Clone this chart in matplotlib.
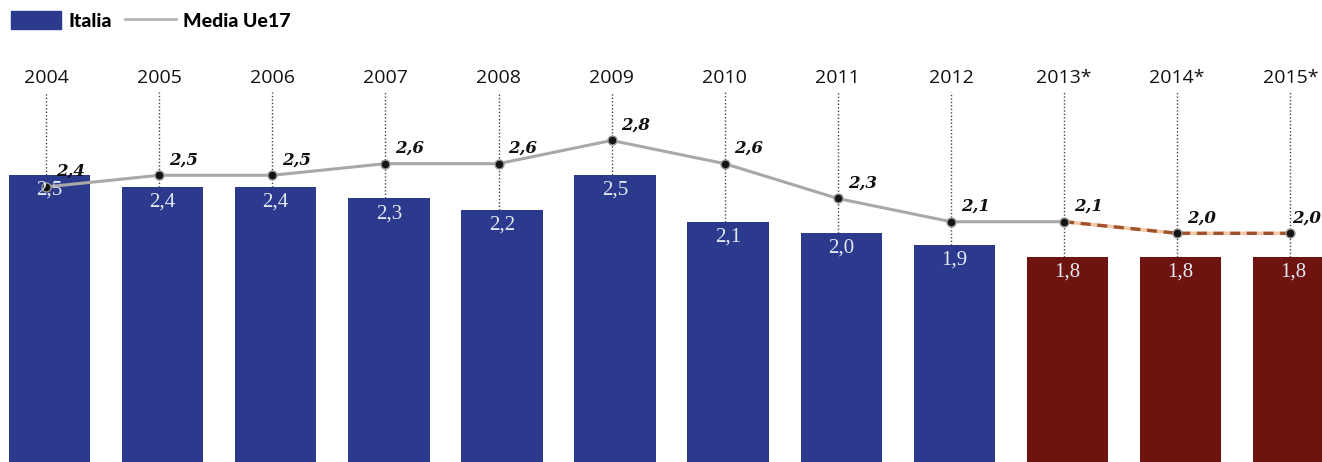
import matplotlib.pyplot as plt
from matplotlib.patches import Patch
from matplotlib.lines import Line2D

years = ['2004', '2005', '2006', '2007', '2008', '2009', '2010', '2011', '2012', '2013*', '2014*', '2015*']
italia = [2.5, 2.4, 2.4, 2.3, 2.2, 2.5, 2.1, 2.0, 1.9, 1.8, 1.8, 1.8]
media_ue17 = [2.4, 2.5, 2.5, 2.6, 2.6, 2.8, 2.6, 2.3, 2.1, 2.1, 2.0, 2.0]
n_actual = 9  # the last three years are forecasts

blue = '#2c3a8e'
red = '#6e1410'
gray = '#a8a8a8'

fig = plt.figure(figsize=(13.22, 4.62), dpi=100)
ax = fig.add_axes([0, 0, 1, 1])
x = list(range(len(years)))

colors = [blue if i < n_actual else red for i in x]
ax.bar([i + 0.03 for i in x], italia, width=0.72, color=colors, zorder=2)

# dotted guide lines from year label down to bar top
ax.vlines(x, italia, 3.22, colors='#444444', linestyles=(0, (1, 1.5)), linewidth=1, zorder=1)

# Media Ue17 line: solid for actual data, dashed for forecasts
k = n_actual
ax.plot(x[:k + 1], media_ue17[:k + 1], color=gray, lw=2.2, zorder=3)
ax.plot(x[k:], media_ue17[k:], color='#f2c9a8', lw=2.6, zorder=3)
ax.plot(x[k:], media_ue17[k:], color='#a0522d', lw=2.4, ls=(0, (3, 2)), zorder=4)
ax.scatter(x, media_ue17, s=42, color='#151515', edgecolors='#9a9a9a', linewidths=1, zorder=5)

for i, y in enumerate(years):
    ax.text(i, 3.34, y, ha='center', va='center', fontsize=14, family='Open Sans', color='#111111')

for i, v in enumerate(media_ue17):
    dx = 1 if i == len(x) - 1 else 7
    ax.annotate(f'{v:.1f}'.replace('.', ','), (i, v), xytext=(dx, 5), textcoords='offset points',
                ha='left', va='bottom', fontsize=12, family='DejaVu Serif', weight='bold',
                style='italic', color='#111111', zorder=6)

for i, v in enumerate(italia):
    ax.annotate(f'{v:.1f}'.replace('.', ','), (i + 0.03, v), xytext=(0, -4), textcoords='offset points',
                ha='center', va='top', fontsize=15, family='Liberation Serif', color='#e4eaf2', zorder=6)

ax.set_xlim(-0.407, 11.28)
ax.set_ylim(0.03, 4.01)
ax.axis('off')

handles = [Patch(color=blue), Line2D([0], [0], color='#b5b5b5', lw=2)]
ax.legend(handles, ['Italia', 'Media Ue17'], loc='upper left', bbox_to_anchor=(0.0, 1.0), ncol=2,
          frameon=False, handlelength=2.6, handleheight=1.1, handletextpad=0.35, columnspacing=0.7,
          borderaxespad=0.25, borderpad=0.3,
          prop={'family': 'Lato', 'weight': 'black', 'size': 14})

fig.savefig('out.png', dpi=100)
